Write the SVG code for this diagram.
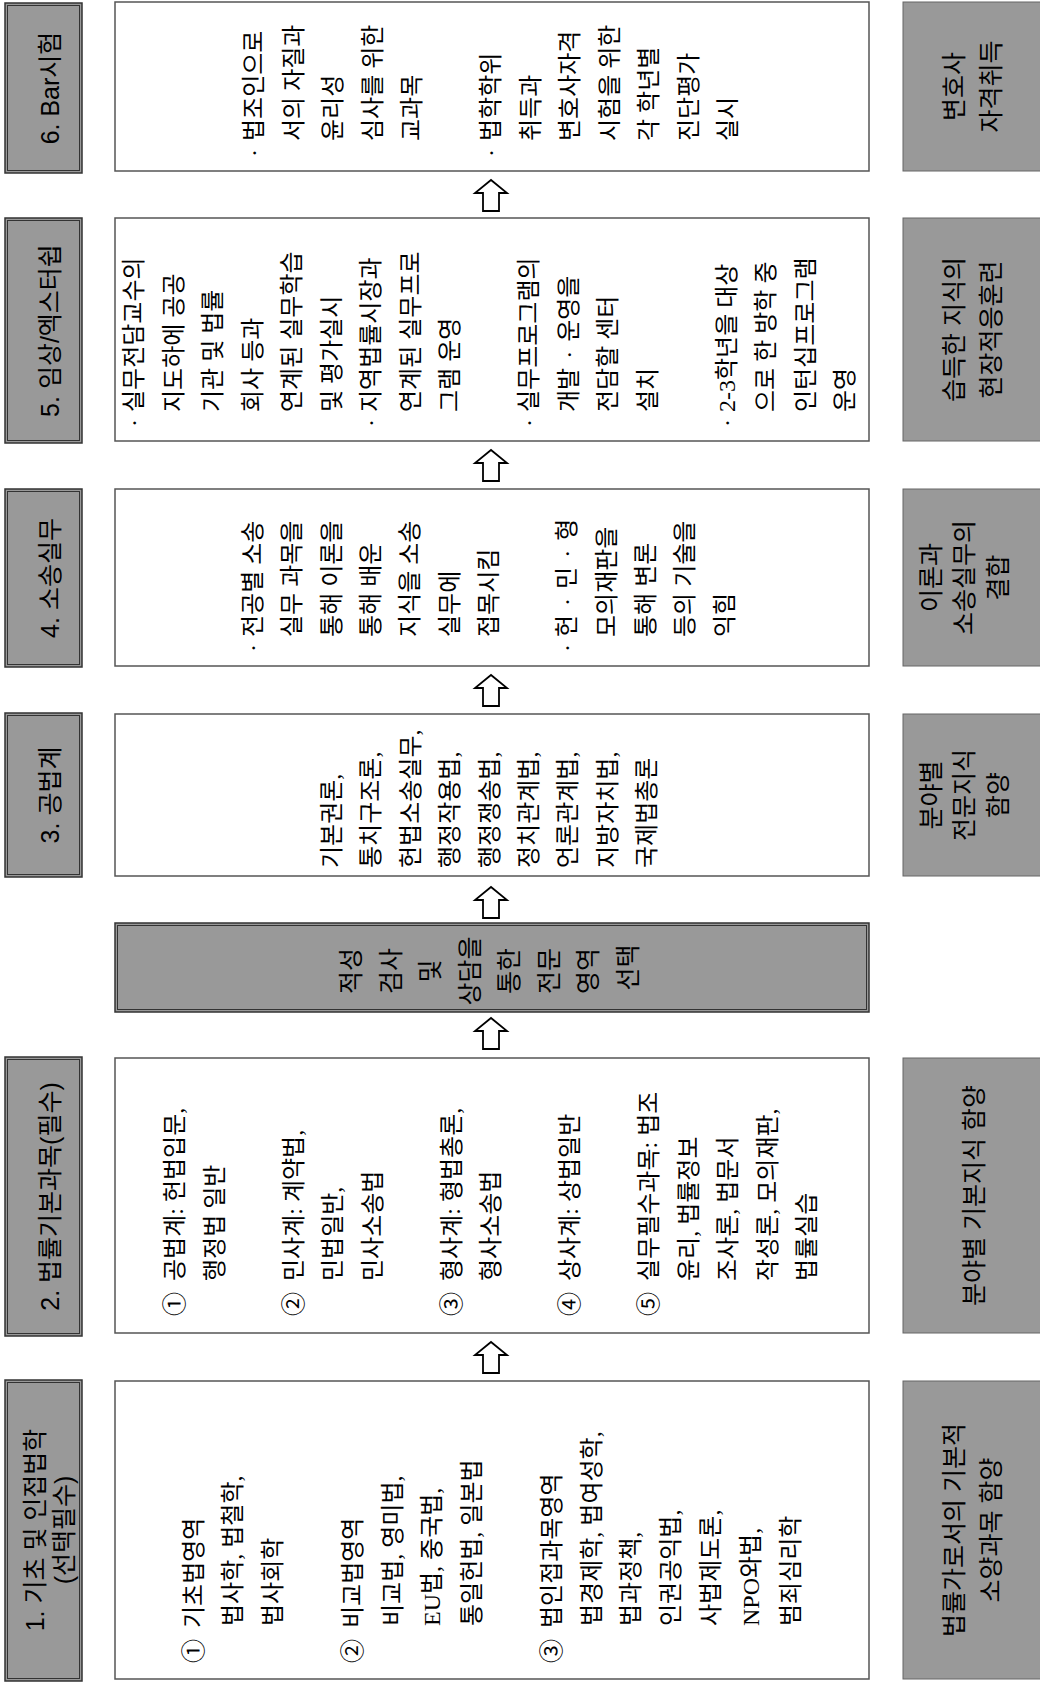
<svg xmlns="http://www.w3.org/2000/svg" width="1040" height="1686" viewBox="0 0 1040 1686">
<style>
.lbl{font-family:"Liberation Sans","Noto Sans CJK KR",sans-serif;font-size:25px;fill:#000}
.txt{font-family:"Liberation Serif","Noto Sans CJK KR",serif;font-size:24px;fill:#000}
.mid{text-anchor:middle}
.bar{fill:#999;stroke:#333;stroke-width:1.5}
.bari{fill:none;stroke:#333;stroke-width:1}
.box{fill:#fff;stroke:#555;stroke-width:1.5}
.res{fill:#999;stroke:#666;stroke-width:1}
.arr{fill:#fff;stroke:#000;stroke-width:1.8;stroke-linejoin:miter}
</style>
<defs>
<path id="arrow" d="M0,0 L-13,-16 L-13,-8 L-31,-8 L-31,8 L-13,8 L-13,16 Z"/>
</defs>
<rect x="0" y="0" width="1040" height="1686" fill="#fff"/>
<g transform="translate(0,1686) rotate(-90)">

<!-- Column 1 -->
<g id="bar1">
<rect class="bar" x="5" y="5" width="301" height="77"/>
<rect class="bari" x="7.5" y="7.5" width="296" height="72"/>
<text class="lbl mid"><tspan x="156" y="44">1. 기초 및 인접법학</tspan><tspan x="156" y="73">(선택필수)</tspan></text>
</g>
<g id="box1">
<rect class="box" x="7" y="115" width="298" height="754"/>
<text class="txt">
<tspan x="23" y="201.5">①</tspan><tspan x="58" y="201.5">기초법영역</tspan>
<tspan x="60" y="241.3">법사학, 법철학,</tspan>
<tspan x="60" y="281.1">법사회학</tspan>
<tspan x="23" y="360.7">②</tspan><tspan x="58" y="360.7">비교법영역</tspan>
<tspan x="60" y="400.5">비교법, 영미법,</tspan>
<tspan x="60" y="440.3">EU법, 중국법,</tspan>
<tspan x="60" y="480.1">통일헌법, 일본법</tspan>
<tspan x="23" y="559.7">③</tspan><tspan x="58" y="559.7">법인접과목영역</tspan>
<tspan x="60" y="599.5">법경제학, 법여성학,</tspan>
<tspan x="60" y="639.3">법과정책,</tspan>
<tspan x="60" y="679.1">인권공익법,</tspan>
<tspan x="60" y="718.9">사법제도론,</tspan>
<tspan x="60" y="758.7">NPO와법,</tspan>
<tspan x="60" y="798.5">범죄심리학</tspan>
</text>
</g>
<g id="res1">
<rect class="res" x="7" y="903" width="298" height="140"/>
<text class="lbl mid"><tspan x="156" y="963">법률가로서의 기본적</tspan><tspan x="156" y="1000">소양과목 함양</tspan></text>
</g>

<!-- Column 2 -->
<g id="bar2">
<rect class="bar" x="350" y="5" width="279" height="77"/>
<rect class="bari" x="352.5" y="7.5" width="274" height="72"/>
<text class="lbl mid" x="489.5" y="59">2. 법률기본과목(필수)</text>
</g>
<g id="box2">
<rect class="box" x="353" y="115" width="275" height="754"/>
<text class="txt">
<tspan x="370" y="183">①</tspan><tspan x="405" y="183">공법계: 헌법입문,</tspan>
<tspan x="405" y="222.5">행정법 일반</tspan>
<tspan x="370" y="301.5">②</tspan><tspan x="405" y="301.5">민사계: 계약법,</tspan>
<tspan x="405" y="341">민법일반,</tspan>
<tspan x="405" y="380.5">민사소송법</tspan>
<tspan x="370" y="459.5">③</tspan><tspan x="405" y="459.5">형사계: 형법총론,</tspan>
<tspan x="405" y="499">형사소송법</tspan>
<tspan x="370" y="578">④</tspan><tspan x="405" y="578">상사계: 상법일반</tspan>
<tspan x="370" y="657">⑤</tspan><tspan x="405" y="657">실무필수과목: 법조</tspan>
<tspan x="405" y="696.5">윤리, 법률정보</tspan>
<tspan x="405" y="736">조사론, 법문서</tspan>
<tspan x="405" y="775.5">작성론, 모의재판,</tspan>
<tspan x="405" y="815">법률실습</tspan>
</text>
</g>
<g id="res2">
<rect class="res" x="353" y="903" width="275" height="140"/>
<text class="lbl mid" x="490.5" y="983">분야별 기본지식 함양</text>
</g>

<!-- Selection -->
<g id="select">
<rect class="bar" x="674" y="115" width="89" height="754"/>
<rect class="bari" x="676.5" y="117.5" width="84" height="749"/>
<text class="lbl mid">
<tspan x="718.5" y="360">적성</tspan>
<tspan x="718.5" y="399.5">검사</tspan>
<tspan x="718.5" y="439">및</tspan>
<tspan x="718.5" y="478.5">상담을</tspan>
<tspan x="718.5" y="518">통한</tspan>
<tspan x="718.5" y="557.5">전문</tspan>
<tspan x="718.5" y="597">영역</tspan>
<tspan x="718.5" y="636.5">선택</tspan>
</text>
</g>

<!-- Column 3 -->
<g id="bar3">
<rect class="bar" x="809" y="5" width="164" height="77"/>
<rect class="bari" x="811.5" y="7.5" width="159" height="72"/>
<text class="lbl mid" x="891" y="59">3. 공법계</text>
</g>
<g id="box3">
<rect class="box" x="810" y="115" width="162" height="754"/>
<text class="txt">
<tspan x="818" y="340">기본권론,</tspan>
<tspan x="818" y="379.4">통치구조론,</tspan>
<tspan x="818" y="418.8">헌법소송실무,</tspan>
<tspan x="818" y="458.2">행정작용법,</tspan>
<tspan x="818" y="497.6">행정쟁송법,</tspan>
<tspan x="818" y="537">정치관계법,</tspan>
<tspan x="818" y="576.4">언론관계법,</tspan>
<tspan x="818" y="615.8">지방자치법,</tspan>
<tspan x="818" y="655.2">국제법총론</tspan>
</text>
</g>
<g id="res3">
<rect class="res" x="810" y="903" width="162" height="140"/>
<text class="lbl mid"><tspan x="891" y="940">분야별</tspan><tspan x="891" y="973">전문지식</tspan><tspan x="891" y="1007">함양</tspan></text>
</g>

<!-- Column 4 -->
<g id="bar4">
<rect class="bar" x="1019" y="5" width="178" height="77"/>
<rect class="bari" x="1021.5" y="7.5" width="173" height="72"/>
<text class="lbl mid" x="1108" y="59">4. 소송실무</text>
</g>
<g id="box4">
<rect class="box" x="1020" y="115" width="177" height="754"/>
<text class="txt">
<tspan x="1034" y="261">·</tspan><tspan x="1049" y="261">전공별 소송</tspan>
<tspan x="1049" y="300.3">실무 과목을</tspan>
<tspan x="1049" y="339.6">통해 이론을</tspan>
<tspan x="1049" y="378.9">통해 배운</tspan>
<tspan x="1049" y="418.2">지식을 소송</tspan>
<tspan x="1049" y="457.5">실무에</tspan>
<tspan x="1049" y="496.8">접목시킴</tspan>
<tspan x="1034" y="575.4">·</tspan><tspan x="1049" y="575.4">헌<tspan dx="9">·</tspan><tspan dx="9">민</tspan><tspan dx="9">·</tspan><tspan dx="9">형</tspan></tspan>
<tspan x="1049" y="614.7">모의재판을</tspan>
<tspan x="1049" y="654">통해 변론</tspan>
<tspan x="1049" y="693.3">등의 기술을</tspan>
<tspan x="1049" y="732.6">익힘</tspan>
</text>
</g>
<g id="res4">
<rect class="res" x="1020" y="903" width="177" height="140"/>
<text class="lbl mid"><tspan x="1108.5" y="940">이론과</tspan><tspan x="1108.5" y="973">소송실무의</tspan><tspan x="1108.5" y="1007">결합</tspan></text>
</g>

<!-- Column 5 -->
<g id="bar5">
<rect class="bar" x="1243" y="5" width="225" height="77"/>
<rect class="bari" x="1245.5" y="7.5" width="220" height="72"/>
<text class="lbl mid" x="1355.5" y="59">5. 임상/엑스터쉽</text>
</g>
<g id="box5">
<rect class="box" x="1245" y="115" width="223" height="754"/>
<text class="txt">
<tspan x="1259" y="142">·</tspan><tspan x="1274" y="142">실무전담교수의</tspan>
<tspan x="1274" y="181.5">지도하에 공공</tspan>
<tspan x="1274" y="221">기관 및 법률</tspan>
<tspan x="1274" y="260.5">회사 등과</tspan>
<tspan x="1274" y="300">연계된 실무학습</tspan>
<tspan x="1274" y="339.5">및 평가실시</tspan>
<tspan x="1259" y="379">·</tspan><tspan x="1274" y="379">지역법률시장과</tspan>
<tspan x="1274" y="418.5">연계된 실무프로</tspan>
<tspan x="1274" y="458">그램 운영</tspan>
<tspan x="1259" y="537">·</tspan><tspan x="1274" y="537">실무프로그램의</tspan>
<tspan x="1274" y="576.5">개발<tspan dx="9">·</tspan><tspan dx="9">운영을</tspan></tspan>
<tspan x="1274" y="616">전담할 센터</tspan>
<tspan x="1274" y="655.5">설치</tspan>
<tspan x="1259" y="734.5">·</tspan><tspan x="1274" y="734.5">2-3학년을 대상</tspan>
<tspan x="1274" y="774">으로 한 방학 중</tspan>
<tspan x="1274" y="813.5">인턴십프로그램</tspan>
<tspan x="1274" y="853">운영</tspan>
</text>
</g>
<g id="res5">
<rect class="res" x="1245" y="903" width="223" height="140"/>
<text class="lbl mid"><tspan x="1356.5" y="963">습득한 지식의</tspan><tspan x="1356.5" y="1000">현장적응훈련</tspan></text>
</g>

<!-- Column 6 -->
<g id="bar6">
<rect class="bar" x="1513" y="5" width="170" height="77"/>
<rect class="bari" x="1515.5" y="7.5" width="165" height="72"/>
<text class="lbl mid" x="1598" y="59">6. Bar시험</text>
</g>
<g id="box6">
<rect class="box" x="1515" y="115" width="169" height="754"/>
<text class="txt">
<tspan x="1529" y="262">·</tspan><tspan x="1545" y="262">법조인으로</tspan>
<tspan x="1545" y="301.5">서의 자질과</tspan>
<tspan x="1545" y="341">윤리성</tspan>
<tspan x="1545" y="380.5">심사를 위한</tspan>
<tspan x="1545" y="420">교과목</tspan>
<tspan x="1529" y="499">·</tspan><tspan x="1545" y="499">법학학위</tspan>
<tspan x="1545" y="538.5">취득과</tspan>
<tspan x="1545" y="578">변호사자격</tspan>
<tspan x="1545" y="617.5">시험을 위한</tspan>
<tspan x="1545" y="657">각 학년별</tspan>
<tspan x="1545" y="696.5">진단평가</tspan>
<tspan x="1545" y="736">실시</tspan>
</text>
</g>
<g id="res6">
<rect class="res" x="1515" y="903" width="169" height="140"/>
<text class="lbl mid"><tspan x="1599.5" y="963">변호사</tspan><tspan x="1599.5" y="1000">자격취득</tspan></text>
</g>

<!-- Connectors -->
<g id="connectors">
<use href="#arrow" class="arr" transform="translate(344,491)"/>
<use href="#arrow" class="arr" transform="translate(668,491)"/>
<use href="#arrow" class="arr" transform="translate(799,491)"/>
<use href="#arrow" class="arr" transform="translate(1011,491)"/>
<use href="#arrow" class="arr" transform="translate(1236,491)"/>
<use href="#arrow" class="arr" transform="translate(1506,491)"/>
</g>
</g>
</svg>
